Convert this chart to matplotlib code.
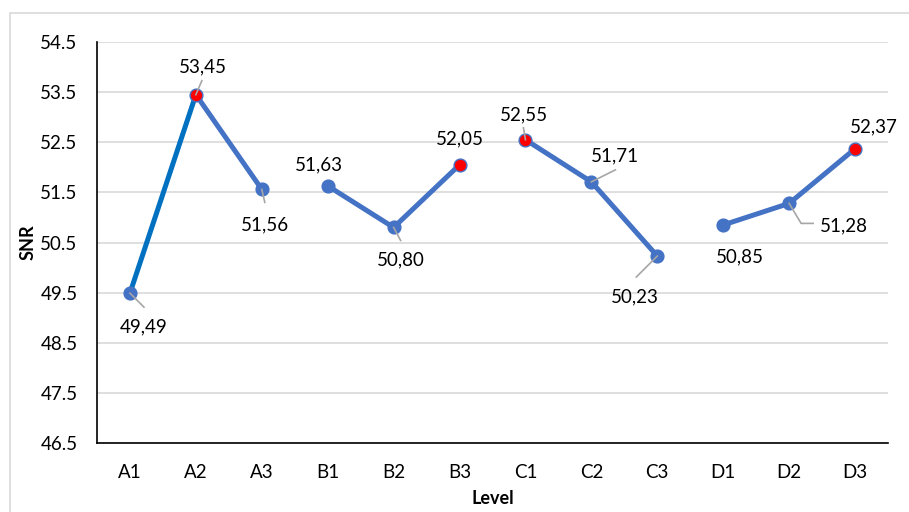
import matplotlib
matplotlib.use("Agg")
import matplotlib.pyplot as plt
from matplotlib.transforms import ScaledTranslation
from matplotlib.patches import Rectangle

plt.rcParams['font.family'] = ['Lato', 'DejaVu Sans']

# Levels of each factor and their mean signal-to-noise ratios
levels = ["A1", "A2", "A3", "B1", "B2", "B3", "C1", "C2", "C3", "D1", "D2", "D3"]
snr_a = [49.49, 53.45, 51.56]
snr_b = [51.63, 50.80, 52.05]
snr_c = [52.55, 51.71, 50.23]
snr_d = [50.85, 51.28, 52.37]
y_ticks = [46.5, 47.5, 48.5, 49.5, 50.5, 51.5, 52.5, 53.5, 54.5]

groups = [snr_a, snr_b, snr_c, snr_d]
values = snr_a + snr_b + snr_c + snr_d

BLUE = "#4472C4"
DARK_BLUE = "#0070C0"
RED = "#FF0000"
LEADER = "#A6A6A6"

DPI = 100
fig = plt.figure(figsize=(9.09, 5.12), dpi=DPI)
ax = fig.add_axes([97 / 909, 1 - 443 / 512, 791 / 909, 401 / 512])

# outer chart frame
fig.patches.append(Rectangle((10 / 909, -0.1), 1.2, 1 - 13 / 512 + 0.1,
                             transform=fig.transFigure, fill=False,
                             edgecolor="#D9D9D9", lw=1.2, zorder=0))

ax.set_xlim(-0.5, len(levels) - 0.5)
ax.set_ylim(46.5, 54.5)
ax.set_yticks(y_ticks)
ax.set_yticklabels([f"{t:.1f}" for t in y_ticks], fontsize=13.5)
ax.set_xticks(range(len(levels)))
ax.set_xticklabels(levels, fontsize=13.5)
ax.tick_params(axis="y", length=0, pad=14)
ax.tick_params(axis="x", length=0, pad=15)
ax.grid(axis="y", color="#D9D9D9", lw=1.2)
ax.set_axisbelow(True)
for side in ("top", "right"):
    ax.spines[side].set_visible(False)
for side in ("left", "bottom"):
    ax.spines[side].set_color("black")
    ax.spines[side].set_linewidth(1.2)

ax.set_ylabel("SNR", fontsize=13, fontweight="bold", va="center")
ax.yaxis.set_label_coords(-69 / 791, 0.5)
ax.set_xlabel("Level", fontsize=13, fontweight="bold", va="center")
ax.xaxis.set_label_coords(0.5, -56 / 401)

# one line per factor, with the best level marked in red
start = 0
for gi, g in enumerate(groups):
    xs = list(range(start, start + len(g)))
    if gi == 0:
        ax.plot(xs[:2], g[:2], color=DARK_BLUE, lw=3.6, solid_capstyle="round", zorder=3)
        ax.plot(xs[1:], g[1:], color=BLUE, lw=3.6, solid_capstyle="round", zorder=3)
    else:
        ax.plot(xs, g, color=BLUE, lw=3.6, solid_capstyle="round", zorder=3)
    best = max(range(len(g)), key=lambda i: g[i])
    for i, (x, v) in enumerate(zip(xs, g)):
        fc = RED if i == best else BLUE
        ax.plot(x, v, "o", ms=9.2, mfc=fc, mec=BLUE, mew=1.0, zorder=4)
    start += len(g)

# data labels: (text offset in px, leader path in px)
label_layout = [
    ((14, -34), [(0, 0), (14, -14)]),
    ((7, 28), [(0, 0), (6, 14)]),
    ((3, -36), [(0, 0), (3, -13)]),
    ((-9, 21), None),
    ((7, -32), [(0, 0), (7, -13)]),
    ((0, 26), None),
    ((-2, 25), [(0, 0), (-2, 12)]),
    ((24, 26), [(0, 0), (24, 12)]),
    ((-22, -41), [(0, 0), (-21, -21)]),
    ((17, -32), None),
    ((55, -22), [(0, 0), (12, -20), (24, -20)]),
    ((19, 22), None),
]

for x, (v, (toff, path)) in enumerate(zip(values, label_layout)):
    anchor = fig.dpi_scale_trans + ScaledTranslation(x, v, ax.transData)
    if path:
        ax.plot([p[0] / DPI for p in path], [p[1] / DPI for p in path],
                color=LEADER, lw=1.2, transform=anchor, zorder=5, clip_on=False)
    ax.text(toff[0] / DPI, toff[1] / DPI, f"{v:.2f}".replace(".", ","),
            transform=anchor, ha="center", va="center", fontsize=13.5,
            zorder=6)

fig.savefig("out.png", dpi=DPI)
